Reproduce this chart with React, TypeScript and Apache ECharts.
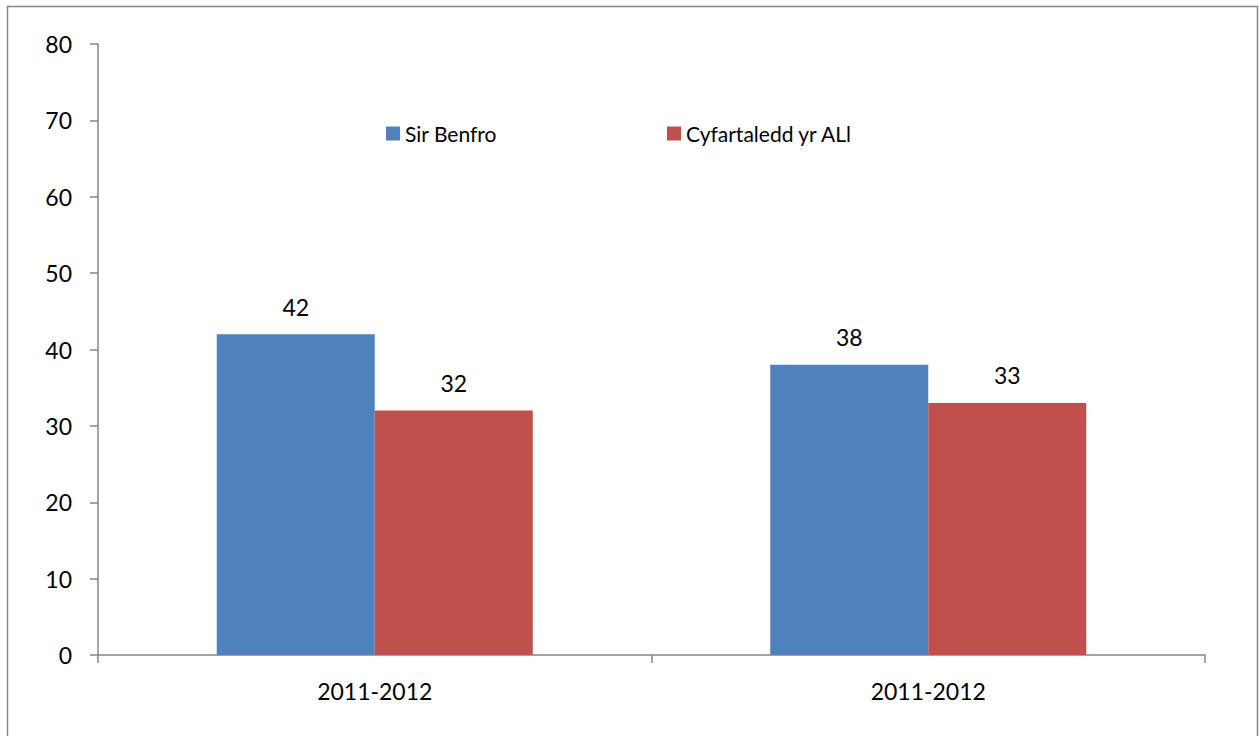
import React, { useEffect, useRef } from "react";
import * as echarts from "echarts";

const categories = ["2011-2012", "2011-2012"];
const seriesNames = ["Sir Benfro", "Cyfartaledd yr ALl"];
const sirBenfro = [42, 38];
const cyfartaledd = [32, 33];
const yTicks = { min: 0, max: 80, interval: 10 };

const FONT = "Lato, 'Noto Sans', sans-serif";
const AXIS = "#868686";

export default function App() {
  const ref = useRef<HTMLDivElement>(null);
  useEffect(() => {
    if (!ref.current) return;
    const chart = echarts.init(ref.current, null, { renderer: "svg" });
    const legendBase = {
      top: 123,
      padding: 0,
      itemWidth: 14,
      itemHeight: 14,
      itemGap: 0,
      itemTextGap: 5,
      icon: "rect",
      textStyle: { fontFamily: FONT, fontSize: 21, color: "#000" },
    };
    chart.setOption({
      animation: false,
      backgroundColor: "#ffffff",
      textStyle: { fontFamily: FONT },
      graphic: [
        {
          type: "rect",
          shape: { x: 7.5, y: 6.5, width: 1250, height: 740 },
          style: { fill: "none", stroke: AXIS, lineWidth: 1.5 },
          silent: true,
        },
      ],
      legend: [
        { ...legendBase, data: [seriesNames[0]], left: 386 },
        { ...legendBase, data: [seriesNames[1]], left: 667 },
      ],
      grid: { left: 98, right: 55, top: 44, bottom: 81, containLabel: false },
      xAxis: {
        type: "category",
        data: categories,
        axisLine: { show: true, lineStyle: { color: AXIS, width: 1.5 } },
        axisTick: { show: true, alignWithLabel: false, length: 8, lineStyle: { color: AXIS, width: 1.5 } },
        axisLabel: { color: "#000", fontFamily: FONT, fontSize: 23, margin: 24 },
        splitLine: { show: false },
      },
      yAxis: {
        type: "value",
        min: yTicks.min,
        max: yTicks.max,
        interval: yTicks.interval,
        axisLine: { show: true, lineStyle: { color: AXIS, width: 1.5 } },
        axisTick: { show: true, length: 8, lineStyle: { color: AXIS, width: 1.5 } },
        axisLabel: { color: "#000", fontFamily: FONT, fontSize: 23, margin: 26 },
        splitLine: { show: false },
      },
      series: [
        {
          name: seriesNames[0],
          type: "bar",
          data: sirBenfro,
          barWidth: 158,
          barGap: "0%",
          itemStyle: { color: "#4F81BD" },
          label: { show: true, position: "top", distance: 16, color: "#000", fontFamily: FONT, fontSize: 23 },
        },
        {
          name: seriesNames[1],
          type: "bar",
          data: cyfartaledd,
          barWidth: 158,
          barGap: "0%",
          itemStyle: { color: "#C0504D" },
          label: { show: true, position: "top", distance: 16, color: "#000", fontFamily: FONT, fontSize: 23 },
        },
      ],
    });
    return () => chart.dispose();
  }, []);
  return (
    <div
      ref={ref}
      style={{ position: "fixed", left: 0, top: 0, width: 1260, height: 736 }}
    />
  );
}
